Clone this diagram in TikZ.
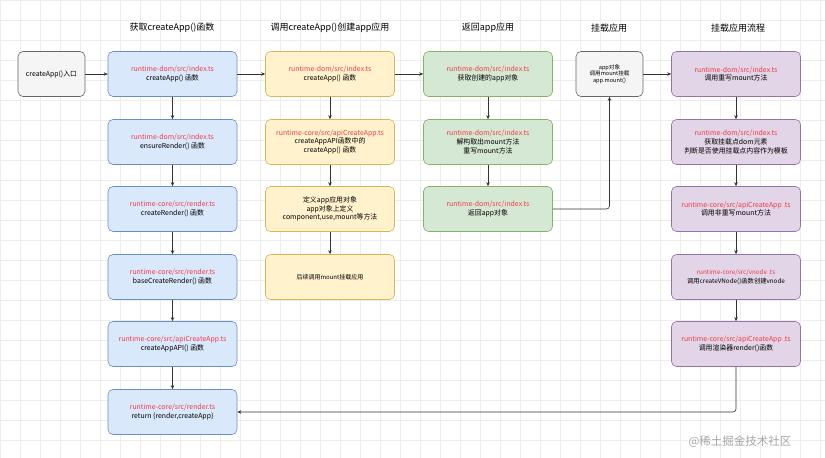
\documentclass[tikz,border=0pt]{standalone}
\usepackage{fontspec}
\setmainfont{Noto Sans CJK SC}
\usetikzlibrary{arrows.meta}
\definecolor{rd}{HTML}{F03A47}
\definecolor{bfill}{HTML}{DAE8FC}\definecolor{bline}{HTML}{6C8EBF}
\definecolor{yfill}{HTML}{FFF2CC}\definecolor{yline}{HTML}{D6B656}
\definecolor{gfill}{HTML}{D5E8D4}\definecolor{gline}{HTML}{82B366}
\definecolor{pfill}{HTML}{E1D5E7}\definecolor{pline}{HTML}{9673A6}
\definecolor{wfill}{HTML}{F5F5F5}\definecolor{wline}{HTML}{666666}
\tikzset{
 bx/.style={draw, rounded corners=5pt, minimum width=129pt, minimum height=45pt, align=center, font=\fontsize{6.9}{8.6}\selectfont, line width=0.6pt},
 ar/.style={-{Stealth[length=4pt,width=3.5pt]}, line width=0.6pt, draw=black!80},
 hd/.style={font=\fontsize{9}{10}\selectfont},
 B/.style={bx, fill=bfill, draw=bline},
 Y/.style={bx, fill=yfill, draw=yline},
 G/.style={bx, fill=gfill, draw=gline},
 P/.style={bx, fill=pfill, draw=pline},
 W/.style={bx, fill=wfill, draw=wline, minimum width=67pt},
}
\newcommand{\rt}[1]{\textcolor{rd}{#1}}
\begin{document}
\begin{tikzpicture}[x=1pt,y=-1pt]
\useasboundingbox (0,0) rectangle (825,458);
\draw[black!7, line width=0.4pt] (0,0) grid[step=20pt] (825,458);
\node[hd] at (172,28) {获取createApp()函数};
\node[hd] at (330,28) {调用createApp()创建app应用};
\node[hd] at (488,28) {返回app应用};
\node[hd] at (609,28) {挂载应用};
\node[hd] at (738,28) {挂载应用流程};

\node[W] (e) at (51.5,74) {createApp()入口};
\node[B] (b1) at (172.5,74) {\rt{runtime-dom/src/index.ts}\\createApp() 函数};
\node[B] (b2) at (172.5,142) {\rt{runtime-dom/src/index.ts}\\ensureRender() 函数};
\node[B] (b3) at (172.5,209) {\rt{runtime-core/src/render.ts}\\createRender() 函数};
\node[B] (b4) at (172.5,277) {\rt{runtime-core/src/render.ts}\\baseCreateRender() 函数};
\node[B] (b5) at (172.5,344) {\rt{runtime-core/src/apiCreateApp.ts}\\createAppAPI() 函数};
\node[B] (b6) at (172.5,412) {\rt{runtime-core/src/render.ts}\\return \{render,createApp\}};

\node[Y] (y1) at (330,74) {\rt{runtime-dom/src/index.ts}\\createApp() 函数};
\node[Y] (y2) at (330,142) {\rt{runtime-core/src/apiCreateApp.ts}\\createAppAPI函数中的\\createApp() 函数};
\node[Y] (y3) at (330,209) {定义app应用对象\\app对象上定义\\component,use,mount等方法};
\node[Y, font=\fontsize{6}{7}\selectfont] (y4) at (330,277) {后续调用mount挂载应用};

\node[G] (g1) at (488,74) {\rt{runtime-dom/src/index.ts}\\获取创建的app对象};
\node[G] (g2) at (488,142) {\rt{runtime-dom/src/index.ts}\\解构取出mount方法\\重写mount方法};
\node[G] (g3) at (488,209) {\rt{runtime-dom/src/index.ts}\\返回app对象};

\node[W, font=\fontsize{5.6}{6.6}\selectfont] (a) at (609.5,74) {app对象\\调用mount挂载\\app.mount()};

\node[P] (p1) at (736,74) {\rt{runtime-dom/src/index.ts}\\调用重写mount方法};
\node[P] (p2) at (736,142) {\rt{runtime-dom/src/index.ts}\\获取挂载点dom元素\\判断是否使用挂载点内容作为模板};
\node[P] (p3) at (736,209) {\rt{runtime-core/src/apiCreateApp\ .ts}\\调用非重写mount方法};
\node[P, font=\fontsize{6.3}{8.6}\selectfont] (p4) at (736,277) {\rt{runtime-core/src/vnode\ .ts}\\调用createVNode()函数创建vnode};
\node[P] (p5) at (736,344) {\rt{runtime-core/src/apiCreateApp\ .ts}\\调用渲染器render()函数};

\draw[ar] (e) -- (b1);
\draw[ar] (b1) -- (y1);
\draw[ar] (y1) -- (g1);
\draw[ar] (a) -- (p1);
\foreach \u/\v in {b1/b2,b2/b3,b3/b4,b4/b5,b5/b6,y1/y2,y2/y3,y3/y4,g1/g2,g2/g3,p1/p2,p2/p3,p3/p4,p4/p5}
  \draw[ar] (\u) -- (\v);
\draw[ar, rounded corners=3pt] (g3.east) -| (a.south);
\draw[ar, rounded corners=3pt] (p5.south) |- (b6.east);

\node[text=black!35, font=\fontsize{11.5}{12}\selectfont] (wm) at (740,442) {@稀土掘金技术社区};
\end{tikzpicture}
\end{document}
